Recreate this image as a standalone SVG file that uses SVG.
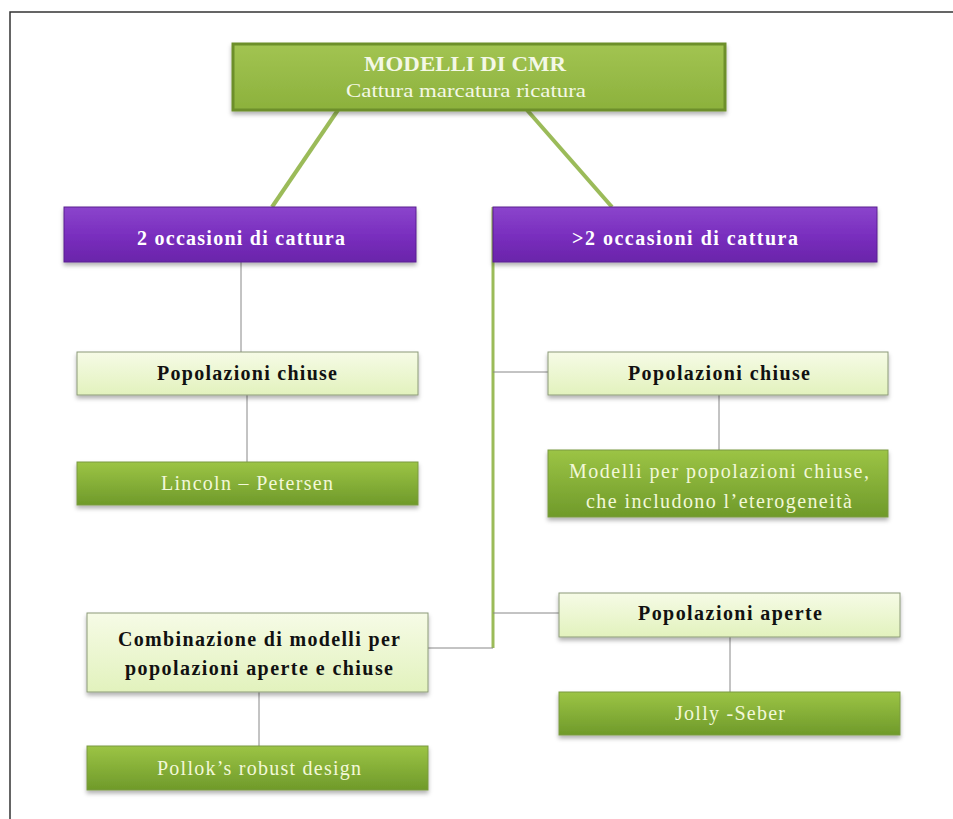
<svg xmlns="http://www.w3.org/2000/svg" width="953" height="819" viewBox="0 0 953 819">
<defs>
<linearGradient id="gTop" x1="0" y1="0" x2="0" y2="1"><stop offset="0" stop-color="#a2c452"/><stop offset="1" stop-color="#8cb13c"/></linearGradient>
<linearGradient id="gPur" x1="0" y1="0" x2="0" y2="1"><stop offset="0" stop-color="#8b45cc"/><stop offset="0.5" stop-color="#7a2fbf"/><stop offset="1" stop-color="#6a24aa"/></linearGradient>
<linearGradient id="gLight" x1="0" y1="0" x2="0" y2="1"><stop offset="0" stop-color="#f6fbe6"/><stop offset="1" stop-color="#e2f2bd"/></linearGradient>
<linearGradient id="gDark" x1="0" y1="0" x2="0" y2="1"><stop offset="0" stop-color="#9cc445"/><stop offset="1" stop-color="#6f9a2a"/></linearGradient>
<filter id="sh" x="-5%" y="-20%" width="110%" height="150%"><feDropShadow dx="0" dy="3" stdDeviation="2" flood-color="#000" flood-opacity="0.3"/></filter>
</defs>
<style>
.top{fill:url(#gTop);stroke:#6d8f2c;stroke-width:3;filter:url(#sh)}
.pur{fill:url(#gPur);stroke:#5a1e90;stroke-width:1;filter:url(#sh)}
.light{fill:url(#gLight);stroke:#8c9a78;stroke-width:1;filter:url(#sh)}
.dark{fill:url(#gDark);stroke:#7a9a40;stroke-width:1;filter:url(#sh)}
text{font-family:"Liberation Serif","DejaVu Serif",serif;text-anchor:middle}
.tb{font-size:20px;font-weight:bold;fill:#111}
.tw{font-size:20px;font-weight:bold;fill:#fff}
.tl{font-size:20px;fill:#f2f8d8}
.thick{stroke:#9bbb59;stroke-width:4;fill:none}
.trunk{stroke:#9bbb59;stroke-width:3;fill:none}
.thin{stroke:#888;stroke-width:1;fill:none}
</style>
<rect width="953" height="819" fill="#fff"/>
<path d="M10 819 V12 H953" fill="none" stroke="#333" stroke-width="1.5"/>
<g id="connectors">
<line class="thick" x1="338" y1="110" x2="272" y2="207"/>
<line class="thick" x1="527" y1="110" x2="612" y2="207"/>
<path class="trunk" d="M493 207 V648"/>
<line class="thin" x1="428" y1="648" x2="493" y2="648"/>
<line class="thin" x1="493" y1="372" x2="548" y2="372"/>
<line class="thin" x1="493" y1="613" x2="559" y2="613"/>
<line class="thin" x1="241" y1="262" x2="241" y2="352"/>
<line class="thin" x1="247" y1="395" x2="247" y2="462"/>
<line class="thin" x1="719" y1="395" x2="719" y2="450"/>
<line class="thin" x1="259" y1="692" x2="259" y2="746"/>
<line class="thin" x1="730" y1="637" x2="730" y2="692"/>
</g>
<g id="root">
<rect class="top" x="233" y="44" width="492" height="66"/>
<text x="465" y="71" textLength="202" lengthAdjust="spacingAndGlyphs" style="font-size:21px;font-weight:bold;fill:#f4f8e6">MODELLI DI CMR</text>
<text x="466" y="97" textLength="240" lengthAdjust="spacingAndGlyphs" style="font-size:19px;fill:#f4f8e6">Cattura marcatura ricatura</text>
</g>
<g id="two">
<rect class="pur" x="64" y="207" width="352" height="55"/>
<text class="tw" x="241" y="245" textLength="208" lengthAdjust="spacing">2 occasioni di cattura</text>
</g>
<g id="more">
<rect class="pur" x="493" y="207" width="384" height="55"/>
<text class="tw" x="685" y="245" textLength="226" lengthAdjust="spacing">&gt;2 occasioni di cattura</text>
</g>
<g id="chiuse-left">
<rect class="light" x="77" y="352" width="341" height="43"/>
<text class="tb" x="247" y="380" textLength="180" lengthAdjust="spacing">Popolazioni chiuse</text>
</g>
<g id="lincoln">
<rect class="dark" x="77" y="462" width="341" height="43"/>
<text class="tl" x="247" y="490" textLength="172" lengthAdjust="spacing">Lincoln – Petersen</text>
</g>
<g id="chiuse-right">
<rect class="light" x="548" y="352" width="340" height="43"/>
<text class="tb" x="719" y="380" textLength="182" lengthAdjust="spacing">Popolazioni chiuse</text>
</g>
<g id="modelli">
<rect class="dark" x="548" y="450" width="340" height="67"/>
<text class="tl" x="719" y="478" textLength="300" lengthAdjust="spacing">Modelli per popolazioni  chiuse,</text>
<text class="tl" x="719" y="508" textLength="266" lengthAdjust="spacing">che includono l’eterogeneità</text>
</g>
<g id="combinazione">
<rect class="light" x="87" y="613" width="341" height="79"/>
<text class="tb" x="259" y="646" textLength="282" lengthAdjust="spacing">Combinazione di modelli per</text>
<text class="tb" x="259" y="675" textLength="268" lengthAdjust="spacing">popolazioni aperte e chiuse</text>
</g>
<g id="pollok">
<rect class="dark" x="87" y="746" width="341" height="44"/>
<text class="tl" x="259" y="775" textLength="204" lengthAdjust="spacing">Pollok’s robust design</text>
</g>
<g id="aperte">
<rect class="light" x="559" y="593" width="341" height="44"/>
<text class="tb" x="730" y="620" textLength="184" lengthAdjust="spacing">Popolazioni aperte</text>
</g>
<g id="jolly">
<rect class="dark" x="559" y="692" width="341" height="43"/>
<text class="tl" x="730" y="720" textLength="110" lengthAdjust="spacing">Jolly -Seber</text>
</g>
</svg>
